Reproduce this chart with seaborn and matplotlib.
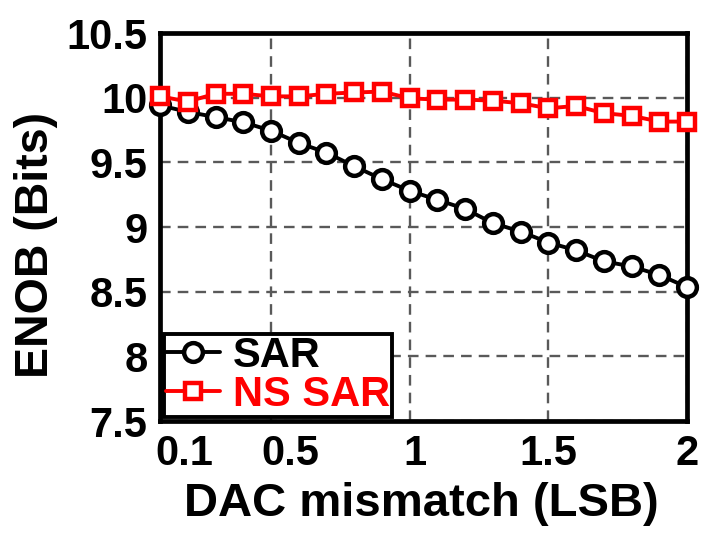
import matplotlib
matplotlib.use("Agg")
import matplotlib.pyplot as plt
import matplotlib.transforms as mtransforms
import seaborn as sns
import pandas as pd

mismatch = [0.1, 0.2, 0.3, 0.4, 0.5, 0.6, 0.7, 0.8, 0.9, 1.0,
            1.1, 1.2, 1.3, 1.4, 1.5, 1.6, 1.7, 1.8, 1.9, 2.0]
sar = [9.94, 9.89, 9.85, 9.81, 9.745, 9.65, 9.575, 9.47, 9.37, 9.28,
       9.21, 9.14, 9.03, 8.965, 8.88, 8.82, 8.735, 8.695, 8.63, 8.535]
ns_sar = [10.01, 9.97, 10.03, 10.03, 10.01, 10.01, 10.03, 10.04, 10.047, 9.995,
          9.985, 9.985, 9.977, 9.957, 9.918, 9.936, 9.88, 9.86, 9.815, 9.815]
series_names = ["SAR", "NS SAR"]
xticks = [0.1, 0.5, 1, 1.5, 2]
xtick_labels = ["0.1", "0.5", "1", "1.5", "2"]
yticks = [7.5, 8, 8.5, 9, 9.5, 10, 10.5]
ytick_labels = ["7.5", "8", "8.5", "9", "9.5", "10", "10.5"]

sns.set_style("white")
plt.rcParams["font.family"] = ["Liberation Sans", "DejaVu Sans"]
plt.rcParams["font.weight"] = "bold"
plt.rcParams["text.color"] = "black"
plt.rcParams["axes.labelcolor"] = "black"
plt.rcParams["xtick.color"] = "black"
plt.rcParams["ytick.color"] = "black"

fig = plt.figure(figsize=(7.10, 5.34), dpi=100)
ax = fig.add_axes([0.2254, 0.2116, 0.9676 - 0.2254, 0.9382 - 0.2116])

df_sar = pd.DataFrame({"x": mismatch, "y": sar})
df_ns = pd.DataFrame({"x": mismatch, "y": ns_sar})

sns.lineplot(data=df_sar, x="x", y="y", ax=ax, color="black", lw=2.8,
             marker="o", ms=13.5, mfc="white", mec="black", mew=3.2,
             label=series_names[0], zorder=4, clip_on=False)
sns.lineplot(data=df_ns, x="x", y="y", ax=ax, color="#ff0000", lw=2.8,
             marker="s", ms=12, mfc="white", mec="#ff0000", mew=3.2,
             label=series_names[1], zorder=5, clip_on=False)

ax.set_xlim(0.1, 2.0)
ax.set_ylim(7.5, 10.5)
ax.set_xticks(xticks)
ax.set_xticklabels(xtick_labels)
ax.set_yticks(yticks)
ax.set_yticklabels(ytick_labels)
ax.tick_params(axis="both", length=0, labelsize=30, pad=9, colors="black")
for lbl in ax.get_xticklabels() + ax.get_yticklabels():
    lbl.set_fontweight("bold")
    lbl.set_color("black")

# shift first x labels as in reference
offs = [24, 19, 5, 0, 0]
for lbl, o in zip(ax.get_xticklabels(), offs):
    lbl.set_transform(lbl.get_transform() + mtransforms.ScaledTranslation(o / 100, 0, fig.dpi_scale_trans))

ax.grid(True, linestyle=(0, (4.5, 3)), color="#595959", lw=1.7)
ax.set_axisbelow(True)
for s in ax.spines.values():
    s.set_linewidth(3.4)
    s.set_color("black")

ax.set_xlabel("DAC mismatch (LSB)", fontsize=34, fontweight="bold", color="black")
ax.xaxis.set_label_coords((421 - 160) / 527, -(482 - 421) / 388)
ax.set_ylabel("ENOB (Bits)", fontsize=33.5, fontweight="bold", color="black")
ax.yaxis.set_label_coords(-(160 - 58) / 527, (421 - 245) / 388)

leg = ax.legend(loc="lower left", bbox_to_anchor=(0.0, 0.0), borderaxespad=0.1,
                frameon=True, fancybox=False, handlelength=1.3,
                handletextpad=0.3, borderpad=0.05, labelspacing=-0.03,
                prop={"weight": "bold", "size": 30})
leg.get_frame().set_edgecolor("black")
leg.get_frame().set_linewidth(2.8)
leg.get_frame().set_alpha(1)
for t, c in zip(leg.get_texts(), ["black", "#ff0000"]):
    t.set_color(c)
leg.set_zorder(10)

fig.savefig("out.png", dpi=100, facecolor="white")
